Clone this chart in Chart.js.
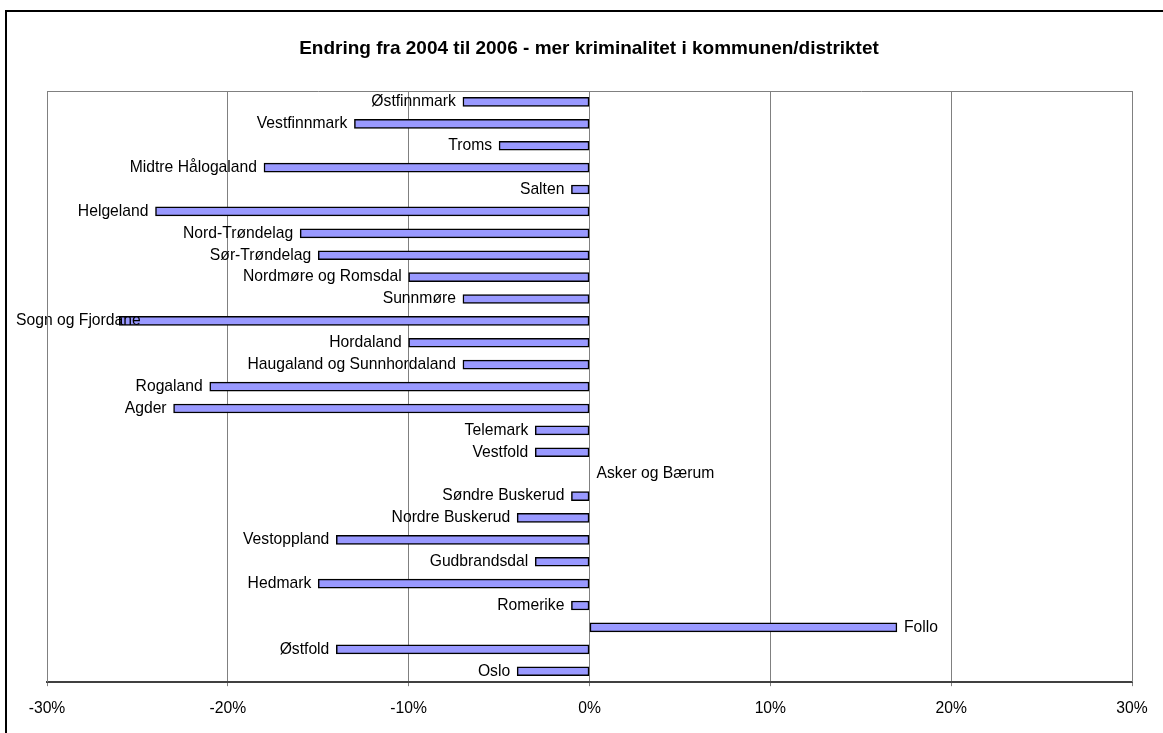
<!DOCTYPE html>
<html>
<head>
<meta charset="utf-8">
<script src="https://cdn.jsdelivr.net/npm/chart.js@4/dist/chart.umd.min.js"></script>
<style>
  html, body { margin: 0; padding: 0; background: #fff; overflow: hidden; }
  #wrap { position: relative; width: 1163px; height: 733px; }
</style>
</head>
<body>
<div id="wrap"><canvas id="chart" width="1163" height="733"></canvas></div>
<script>
var chartTitle = 'Endring fra 2004 til 2006 - mer kriminalitet i kommunen/distriktet';

var districts = [
    'Østfinnmark', 'Vestfinnmark', 'Troms', 'Midtre Hålogaland', 'Salten',
    'Helgeland', 'Nord-Trøndelag', 'Sør-Trøndelag', 'Nordmøre og Romsdal', 'Sunnmøre',
    'Sogn og Fjordane', 'Hordaland', 'Haugaland og Sunnhordaland', 'Rogaland', 'Agder',
    'Telemark', 'Vestfold', 'Asker og Bærum', 'Søndre Buskerud', 'Nordre Buskerud',
    'Vestoppland', 'Gudbrandsdal', 'Hedmark', 'Romerike', 'Follo',
    'Østfold', 'Oslo'
];

// change in percent
var changes = [
    -7, -13, -5, -18, -1,
    -24, -16, -15, -10, -7,
    -26, -10, -7, -21, -23,
    -3, -3, 0, -1, -4,
    -14, -3, -15, -1, 17,
    -14, -4
];

var xTicks = [-30, -20, -10, 0, 10, 20, 30];

var labelFont = '15.7px "Liberation Sans", Arial, sans-serif';

// outer frame, plot border, title
var framePlugin = {
    id: 'frame',
    beforeDraw: function (chart) {
        var c = chart.ctx;
        c.save();
        c.fillStyle = '#fff';
        c.fillRect(0, 0, chart.width, chart.height);
        c.strokeStyle = '#000';
        c.lineWidth = 2;
        c.beginPath();
        c.moveTo(6, chart.height + 5);
        c.lineTo(6, 11);
        c.lineTo(chart.width + 5, 11);
        c.stroke();
        c.restore();
    },
    afterDraw: function (chart) {
        var c = chart.ctx;
        var a = chart.chartArea;
        c.save();
        c.strokeStyle = '#808080';
        c.lineWidth = 1;
        c.beginPath();
        c.moveTo(Math.round(a.left) + 0.5, a.bottom);
        c.lineTo(Math.round(a.left) + 0.5, Math.round(a.top) + 0.5);
        c.lineTo(Math.round(a.right) + 0.5, Math.round(a.top) + 0.5);
        c.lineTo(Math.round(a.right) + 0.5, a.bottom);
        c.stroke();
        c.fillStyle = '#000';
        c.font = 'bold 19px "Liberation Sans", Arial, sans-serif';
        c.textAlign = 'center';
        c.textBaseline = 'middle';
        c.fillText(chartTitle, 589, 49);
        c.restore();
    }
};

// category names drawn at the bar ends
var barLabels = {
    id: 'barLabels',
    afterDatasetsDraw: function (chart) {
        var c = chart.ctx;
        var meta = chart.getDatasetMeta(0);
        c.save();
        c.font = labelFont;
        c.fillStyle = '#000';
        c.textBaseline = 'middle';
        meta.data.forEach(function (bar, i) {
            var v = changes[i];
            var txt = districts[i];
            if (v < 0) {
                var w = c.measureText(txt).width;
                var x = Math.max(bar.x - 7, 16 + w);
                c.textAlign = 'right';
                c.fillText(txt, x, bar.y);
            } else {
                c.textAlign = 'left';
                c.fillText(txt, bar.x + 7, bar.y);
            }
        });
        c.restore();
    }
};

new Chart(document.getElementById('chart').getContext('2d'), {
    type: 'bar',
    data: {
        labels: districts,
        datasets: [{
            data: changes,
            backgroundColor: '#9999FF',
            borderColor: '#000',
            borderWidth: 1.5,
            borderSkipped: false,
            barThickness: 9
        }]
    },
    options: {
        indexAxis: 'y',
        responsive: false,
        animation: false,
        layout: { padding: { left: 47, right: 31, top: 91, bottom: 2 } },
        plugins: {
            legend: { display: false },
            title: { display: false },
            tooltip: { enabled: false }
        },
        scales: {
            x: {
                min: -30,
                max: 30,
                afterBuildTicks: function (axis) {
                    axis.ticks = xTicks.map(function (v) { return { value: v }; });
                },
                ticks: {
                    color: '#000',
                    font: { family: '"Liberation Sans", Arial, sans-serif', size: 15.7 },
                    padding: 13,
                    maxRotation: 0,
                    callback: function (v) { return v + '%'; }
                },
                grid: { color: '#808080', lineWidth: 1, tickLength: 4, drawTicks: true },
                border: { color: '#404040', width: 2 }
            },
            y: {
                display: false,
                grid: { display: false }
            }
        }
    },
    plugins: [framePlugin, barLabels]
});
</script>
</body>
</html>
